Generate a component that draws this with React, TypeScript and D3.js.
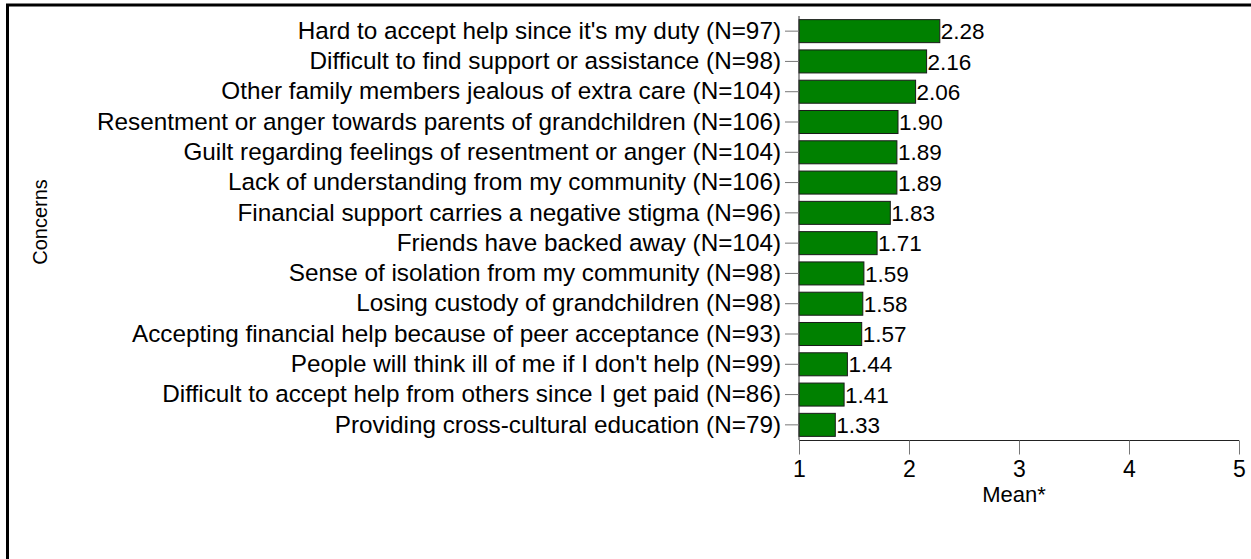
import React, { useEffect, useRef } from 'react'
import * as d3 from 'd3'

const concerns = [
  "Hard to accept help since it's my duty",
  'Difficult to find support or assistance',
  'Other family members jealous of extra care',
  'Resentment or anger towards parents of grandchildren',
  'Guilt regarding feelings of resentment or anger',
  'Lack of understanding from my community',
  'Financial support carries a negative stigma',
  'Friends have backed away',
  'Sense of isolation from my community',
  'Losing custody of grandchildren',
  'Accepting financial help because of peer acceptance',
  "People will think ill of me if I don't help",
  'Difficult to accept help from others since I get paid',
  'Providing cross-cultural education',
]
const counts = [97, 98, 104, 106, 104, 106, 96, 104, 98, 98, 93, 99, 86, 79]
const means = [2.28, 2.16, 2.06, 1.9, 1.89, 1.89, 1.83, 1.71, 1.59, 1.58, 1.57, 1.44, 1.41, 1.33]
const xTicks = [1, 2, 3, 4, 5]

const W = 1251
const H = 559
const FONT = '"Liberation Sans", Arial, sans-serif'
const FS = 23

const App: React.FC = () => {
  const svgRef = useRef<SVGSVGElement>(null)

  useEffect(() => {
    if (!svgRef.current) return
    const svg = d3.select(svgRef.current)
    svg.selectAll('*').remove()

    const rows = concerns.map((c, i) => ({ label: `${c} (N=${counts[i]})`, value: means[i] }))

    const x = d3.scaleLinear().domain([1, 5]).range([799, 1239])
    const y = d3.scaleBand<string>()
      .domain(rows.map(d => d.label))
      .range([16, 440])
      .paddingInner(0.24)
      .paddingOuter(0.12)

    // frame (cropped figure box)
    svg.append('rect')
      .attr('x', 7.5).attr('y', 5)
      .attr('width', W + 20).attr('height', H + 20)
      .attr('fill', 'none').attr('stroke', '#000').attr('stroke-width', 3)

    // bars
    svg.append('g').selectAll('rect')
      .data(rows)
      .join('rect')
      .attr('x', x(1))
      .attr('y', d => y(d.label)!)
      .attr('width', d => x(d.value) - x(1))
      .attr('height', y.bandwidth())
      .attr('fill', '#008000')
      .attr('stroke', '#1a1a1a')
      .attr('stroke-width', 1)

    // value labels
    svg.append('g').selectAll('text')
      .data(rows)
      .join('text')
      .attr('x', d => x(d.value) + 1)
      .attr('y', d => y(d.label)! + y.bandwidth() / 2)
      .attr('dy', '0.36em')
      .attr('font-family', FONT)
      .attr('font-size', 22.5)
      .attr('fill', '#000')
      .text(d => d.value.toFixed(2))

    // y axis
    const yAxis = svg.append('g')
      .attr('transform', `translate(${x(1)},0)`)
      .call(d3.axisLeft(y).tickSize(14).tickPadding(4))
    yAxis.select('.domain').attr('stroke', '#333').attr('d', `M0,16V440`)
    yAxis.selectAll('.tick line').attr('stroke', '#777')
    yAxis.selectAll('.tick text')
      .attr('font-family', FONT)
      .attr('font-size', 24.3)
      .attr('fill', '#000')

    // x axis
    const xAxis = svg.append('g')
      .attr('transform', 'translate(0,440.5)')
      .call(d3.axisBottom(x).tickValues(xTicks).tickFormat(d3.format('d')).tickSize(14).tickPadding(6))
    xAxis.select('.domain').attr('stroke', '#222').attr('d', `M${x(1)},0H${x(5)}`)
    xAxis.selectAll('.tick line').attr('stroke', '#777')
    xAxis.selectAll('.tick text')
      .attr('font-family', FONT)
      .attr('font-size', FS)
      .attr('fill', '#000')

    svg.append('text')
      .attr('x', 1014)
      .attr('y', 502)
      .attr('text-anchor', 'middle')
      .attr('font-family', FONT)
      .attr('font-size', 22)
      .text('Mean*')

    svg.append('text')
      .attr('transform', 'translate(47,222) rotate(-90)')
      .attr('text-anchor', 'middle')
      .attr('font-family', FONT)
      .attr('font-size', 20)
      .text('Concerns')
  }, [])

  return (
    <svg
      ref={svgRef}
      width={W}
      height={H}
      style={{ position: 'absolute', left: 0, top: 0, background: '#fff' }}
    />
  )
}

export default App
